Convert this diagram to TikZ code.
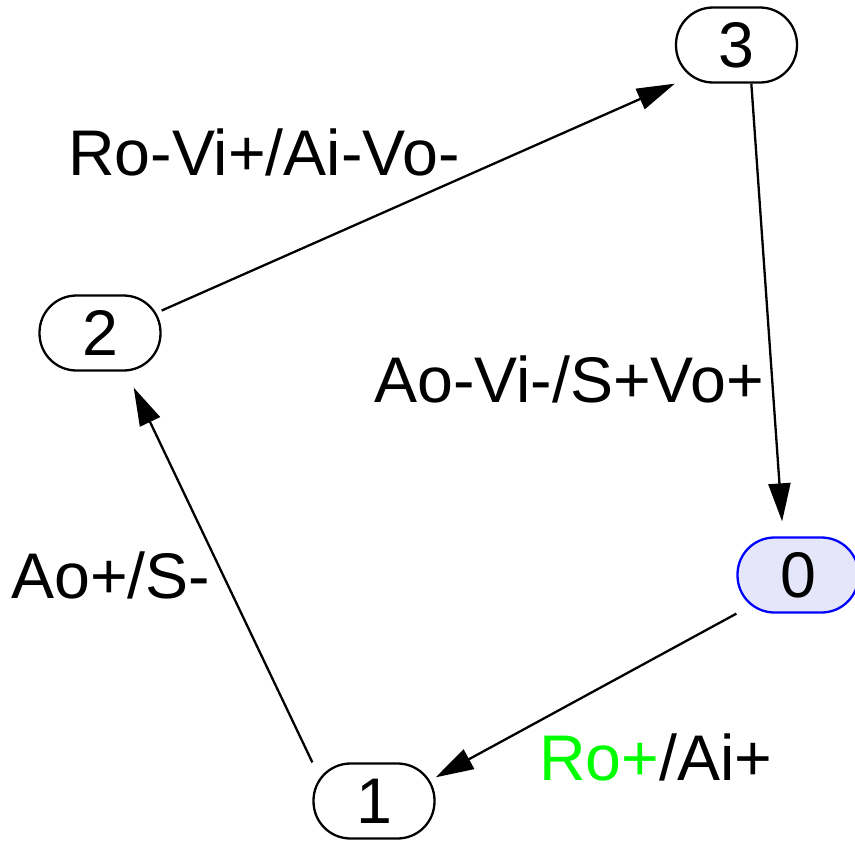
\documentclass[tikz,border=0pt]{standalone}
\usepackage{fontspec}
\setmainfont{Liberation Sans}
\usetikzlibrary{arrows.meta}
\definecolor{nodeblue}{RGB}{0,0,255}
\definecolor{lav}{RGB}{230,230,250}
\definecolor{grn}{RGB}{0,255,0}
\begin{document}
\begin{tikzpicture}[x=1pt,y=-1pt,
  st/.style={draw, line width=2.3pt, rectangle, rounded corners=37pt, minimum width=121pt, minimum height=75pt, inner sep=0pt, font=\fontsize{64.5}{70}\selectfont},
  lab/.style={anchor=base west, inner sep=0pt, font=\fontsize{64.5}{70}\selectfont},
  conn/.style={line width=2.3pt, -{Triangle[length=38pt,width=22pt]}}]
\useasboundingbox (0,0) rectangle (855,841);
\node[st] (n3) at (736.5,45) {3};
\node[st] (n2) at (100,333) {2};
\node[st, draw=nodeblue, fill=lav] (n0) at (798,575) {0};
\node[st] (n1) at (374,801) {1};
\draw[conn] (n2.20) -- (n3.south west);
\draw[conn, shorten >=15pt] (n3.-69) -- (n0.111.5);
\draw[conn] (n0.south west) -- (n1.21);
\draw[conn, shorten >=17.7pt] (n1.north west) -- (n2.-56.3);
\node[lab] (l23) at (68,175) {Ro-Vi+/Ai-Vo-};
\node[lab] (l30) at (374,402) {Ao-Vi-/S+Vo+};
\node[lab] (l12) at (11,598) {Ao+/S-};
\node[lab] (l01) at (539,780) {\textcolor{grn}{Ro+}/Ai+};
\end{tikzpicture}
\end{document}
